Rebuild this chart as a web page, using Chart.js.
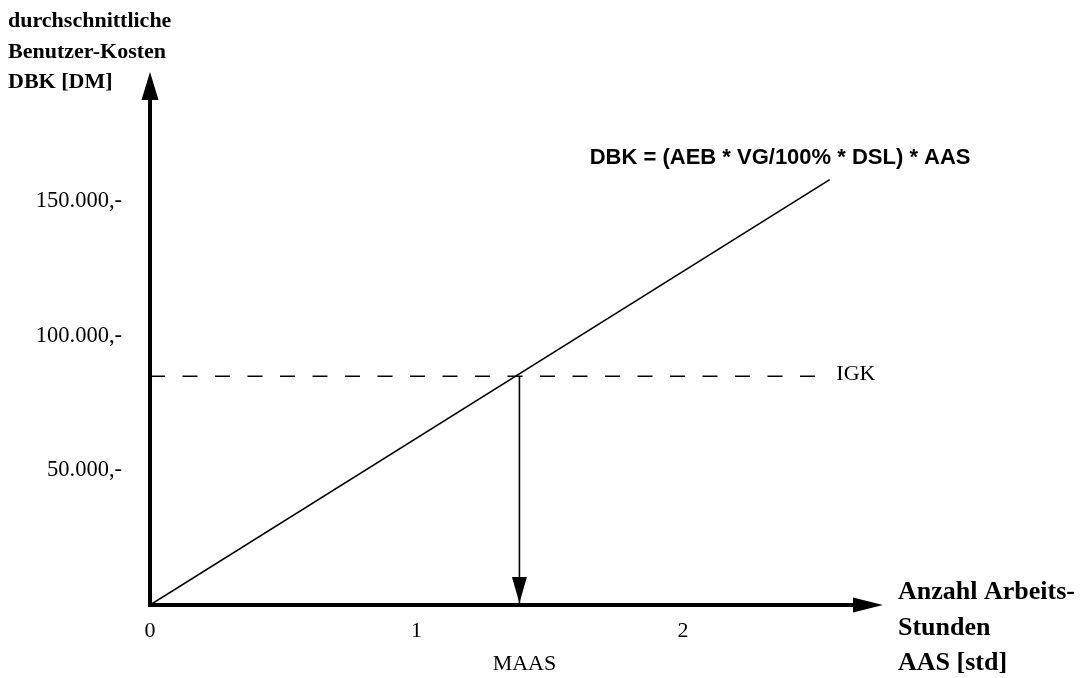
<!DOCTYPE html>
<html>
<head>
  <title>Durchschnittliche Benutzer-Kosten</title>
  <script src="https://cdn.jsdelivr.net/npm/chart.js"></script>
  <style>
    body {
      margin: 0;
      background: white;
    }
    canvas {
      display: block;
    }
  </style>
</head>
<body>
  <canvas id="dbkChart" width="1081" height="678"></canvas>

  <script>
    // Achsen
    const xTicks = [0, 1, 2];
    const xTickLabels = ["0", "1", "2"];
    const yTicks = [50000, 100000, 150000];
    const yTickLabels = ["50.000,-", "100.000,-", "150.000,-"];
    const xMax = 2.75;
    const yMax = 198000;

    // Kostengerade DBK
    const dbkX = [0, 2.55];
    const dbkY = [0, 158000];

    // IGK-Linie und MAAS
    const igk = 85000;
    const igkX = [0, 2.5];
    const maas = 1.386;

    const yTitle = ["durchschnittliche", "Benutzer-Kosten", "DBK [DM]"];
    const xTitle = ["Anzahl Arbeits-", "Stunden", "AAS [std]"];
    const formula = "DBK = (AEB * VG/100% * DSL) * AAS";

    const serif = "'Liberation Serif', 'Times New Roman', serif";
    const sans = "'Liberation Sans', Arial, sans-serif";

    function triangle(c, pts) {
      c.beginPath();
      c.moveTo(pts[0][0], pts[0][1]);
      c.lineTo(pts[1][0], pts[1][1]);
      c.lineTo(pts[2][0], pts[2][1]);
      c.closePath();
      c.fill();
    }

    // Achsenpfeile und Beschriftungen
    const extras = {
      id: "extras",
      afterDraw(chart) {
        const c = chart.ctx;
        const xs = chart.scales.x;
        const ys = chart.scales.y;
        const x0 = xs.getPixelForValue(0);
        const y0 = ys.getPixelForValue(0);
        const xEnd = xs.getPixelForValue(xMax);
        const yEnd = ys.getPixelForValue(yMax);

        c.save();
        c.fillStyle = "#000";
        c.strokeStyle = "#000";
        c.lineWidth = 4;
        c.beginPath();
        c.moveTo(x0, y0 + 2);
        c.lineTo(x0, yEnd + 27);
        c.moveTo(x0 - 2, y0);
        c.lineTo(xEnd - 29, y0);
        c.stroke();
        triangle(c, [[x0, yEnd], [x0 - 8.5, yEnd + 28], [x0 + 8.5, yEnd + 28]]);
        triangle(c, [[xEnd, y0], [xEnd - 30, y0 - 7.5], [xEnd - 30, y0 + 7.5]]);

        // MAAS-Pfeil
        const mx = xs.getPixelForValue(maas);
        triangle(c, [[mx, y0 - 2], [mx - 7.5, y0 - 28], [mx + 7.5, y0 - 28]]);

        c.textAlign = "left";
        c.textBaseline = "alphabetic";
        c.font = "bold 22px " + serif;
        yTitle.forEach((t, i) => c.fillText(t, 8, yEnd - 45 + i * 30.5));
        c.font = "bold 26px " + serif;
        xTitle.forEach((t, i) => c.fillText(t, xEnd + 15, y0 - 6 + i * 35.5));

        c.font = "bold 22px " + sans;
        const lx = xs.getPixelForValue(dbkX[1]);
        const ly = ys.getPixelForValue(dbkY[1]);
        c.fillText(formula, lx - 240, ly - 16);

        c.font = "22px " + serif;
        c.textBaseline = "middle";
        c.fillText("IGK", xs.getPixelForValue(igkX[1]) + 20, ys.getPixelForValue(igk) - 2);
        c.textAlign = "center";
        c.textBaseline = "alphabetic";
        c.fillText("MAAS", mx + 5, y0 + 65);
        c.restore();
      }
    };

    const ctx = document.getElementById("dbkChart").getContext("2d");
    const dbkChart = new Chart(ctx, {
      type: "scatter",
      data: {
        datasets: [
          {
            label: "DBK",
            data: dbkX.map((x, i) => ({ x: x, y: dbkY[i] })),
            showLine: true,
            borderColor: "#000",
            borderWidth: 1.6,
            pointRadius: 0
          },
          {
            label: "IGK",
            data: igkX.map(x => ({ x: x, y: igk })),
            showLine: true,
            borderColor: "#000",
            borderWidth: 1.6,
            borderDash: [15, 17.5],
            pointRadius: 0
          },
          {
            label: "MAAS",
            data: [{ x: maas, y: igk }, { x: maas, y: 0 }],
            showLine: true,
            borderColor: "#000",
            borderWidth: 1.6,
            pointRadius: 0
          }
        ]
      },
      options: {
        responsive: false,
        animation: false,
        layout: {
          padding: { left: 0, top: 72, right: 198, bottom: 0 }
        },
        plugins: {
          legend: { display: false },
          tooltip: { enabled: false }
        },
        scales: {
          x: {
            type: "linear",
            min: 0,
            max: xMax,
            grid: { display: false, drawTicks: false },
            border: { display: false },
            afterBuildTicks: s => { s.ticks = xTicks.map(v => ({ value: v })); },
            afterFit: s => { s.height = 73; },
            ticks: {
              padding: 13,
              color: "#000",
              font: { family: serif, size: 22 },
              callback: v => xTickLabels[xTicks.indexOf(v)]
            }
          },
          y: {
            type: "linear",
            min: 0,
            max: yMax,
            grid: { display: false, drawTicks: false },
            border: { display: false },
            afterBuildTicks: s => { s.ticks = yTicks.map(v => ({ value: v })); },
            afterFit: s => { s.width = 150; },
            ticks: {
              padding: 28,
              color: "#000",
              font: { family: serif, size: 22.5 },
              callback: v => yTickLabels[yTicks.indexOf(v)]
            }
          }
        }
      },
      plugins: [extras]
    });
  </script>
</body>
</html>
